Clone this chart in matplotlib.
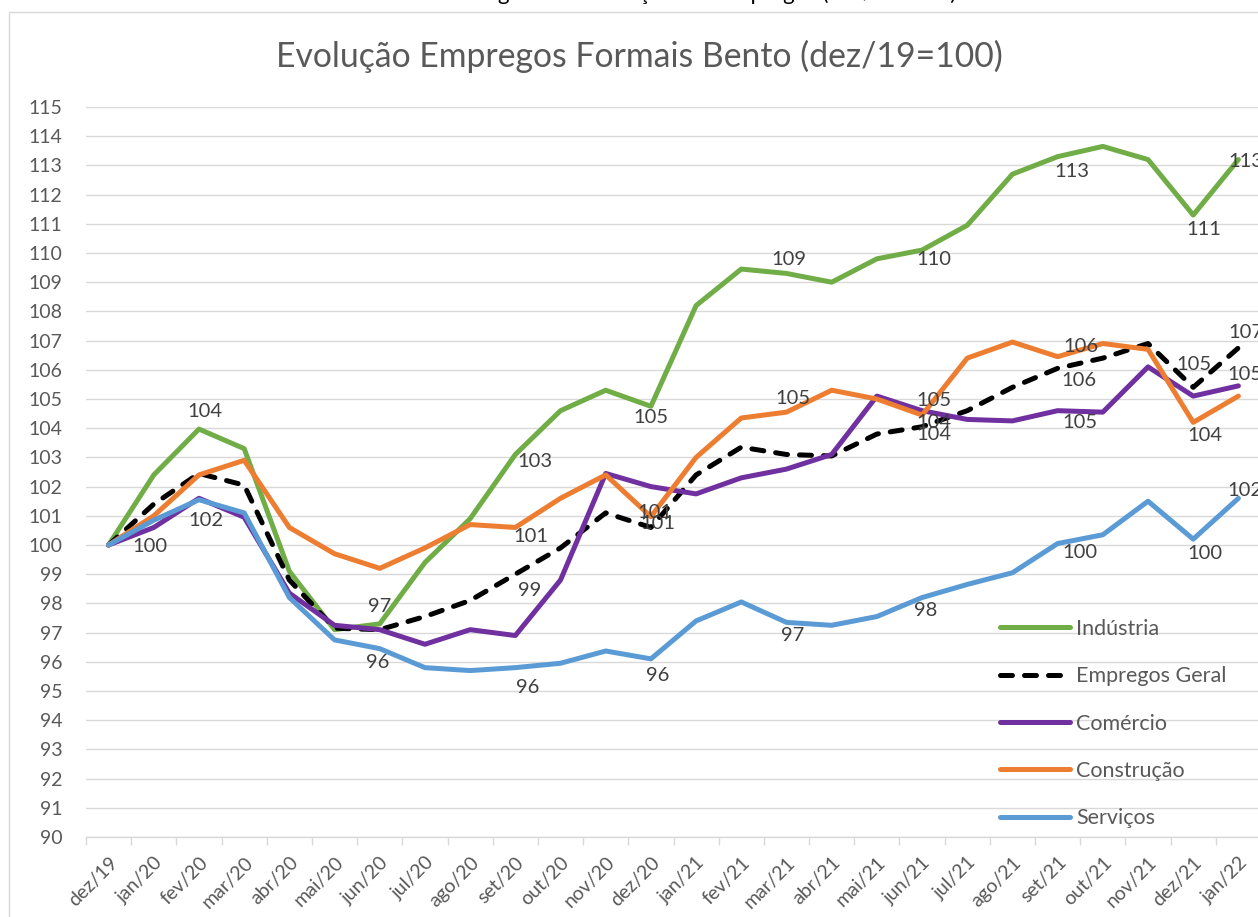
import matplotlib
matplotlib.use("Agg")
import matplotlib.pyplot as plt
import numpy as np
from matplotlib.patches import Rectangle

plt.rcParams['font.family'] = ['Lato', 'DejaVu Sans']

meses = ['dez/19', 'jan/20', 'fev/20', 'mar/20', 'abr/20', 'mai/20', 'jun/20',
         'jul/20', 'ago/20', 'set/20', 'out/20', 'nov/20', 'dez/20', 'jan/21',
         'fev/21', 'mar/21', 'abr/21', 'mai/21', 'jun/21', 'jul/21', 'ago/21',
         'set/21', 'out/21', 'nov/21', 'dez/21', 'jan/22']

industria = [100, 102.4, 103.97, 103.3, 99.1, 97.1, 97.3, 99.4, 100.9, 103.1,
             104.6, 105.3, 104.75, 108.2, 109.45, 109.3, 109.0, 109.8, 110.1,
             110.95, 112.7, 113.3, 113.65, 113.2, 111.3, 113.2]
geral = [100, 101.4, 102.45, 102.05, 98.8, 97.15, 97.1, 97.55, 98.1, 99.0,
         99.9, 101.1, 100.6, 102.4, 103.35, 103.1, 103.05, 103.8, 104.05,
         104.6, 105.4, 106.05, 106.4, 106.9, 105.4, 106.75]
comercio = [100, 100.6, 101.6, 100.95, 98.35, 97.25, 97.1, 96.6, 97.1, 96.9,
            98.8, 102.45, 102.0, 101.75, 102.3, 102.6, 103.1, 105.1, 104.6,
            104.3, 104.25, 104.6, 104.55, 106.1, 105.1, 105.45]
construcao = [100, 101.0, 102.4, 102.9, 100.6, 99.7, 99.2, 99.9, 100.7, 100.6,
              101.6, 102.4, 100.97, 103.0, 104.35, 104.55, 105.3, 105.0, 104.45,
              106.4, 106.95, 106.45, 106.9, 106.7, 104.2, 105.1]
servicos = [100, 100.85, 101.55, 101.1, 98.2, 96.75, 96.45, 95.8, 95.7, 95.8,
            95.95, 96.37, 96.1, 97.4, 98.05, 97.35, 97.25, 97.55, 98.2, 98.65,
            99.05, 100.05, 100.35, 101.5, 100.2, 101.6]

# (serie, legenda, cor, tracejado)
series = [
    (industria, 'Indústria', '#70AD47', False),
    (geral, 'Empregos Geral', '#000000', True),
    (comercio, 'Comércio', '#7030A0', False),
    (construcao, 'Construção', '#ED7D31', False),
    (servicos, 'Serviços', '#5B9BD5', False),
]

# rotulos de dados: (serie, indice, dx px, dy px)
rotulos = [
    (industria, 2, 6, -18), (industria, 6, 0, -17), (industria, 9, 20, 7),
    (industria, 12, 0, 11), (industria, 15, 2, -14), (industria, 18, 12, 9),
    (industria, 21, 14, 15), (industria, 24, 11, 14), (industria, 25, 7, 2),
    (servicos, 0, 41, 1), (servicos, 2, 7, 21), (servicos, 6, -2, 14),
    (servicos, 9, 12, 20), (servicos, 12, 7, 17), (servicos, 15, 6, 13),
    (servicos, 18, 4, 13), (servicos, 21, 22, 9), (servicos, 24, 12, 14),
    (servicos, 25, 7, -8),
    (construcao, 9, 16, 9), (construcao, 12, 4, -4), (construcao, 15, 6, -14),
    (construcao, 18, 12, 7), (construcao, 21, 23, -10), (construcao, 24, 12, 13),
    (comercio, 18, 12, -10), (comercio, 21, 22, 12), (comercio, 25, 7, -11),
    (geral, 9, 14, 16), (geral, 12, 7, -4), (geral, 18, 12, 8),
    (geral, 21, 21, 12), (geral, 24, 1, -23), (geral, 25, 7, -15),
]

W, H = 1258, 917
fig = plt.figure(figsize=(W / 100, H / 100), dpi=100)
ax = fig.add_axes([86 / W, 1 - 837 / H, 1175 / W, 730 / H])

x = np.arange(len(meses))
for vals, nome, cor, tracejado in series:
    if tracejado:
        ax.plot(x, vals, color=cor, lw=3.6, label=nome, dashes=(2.4, 2.4),
                dash_capstyle='round', dash_joinstyle='round')
    else:
        ax.plot(x, vals, color=cor, lw=3.6, label=nome,
                solid_joinstyle='round', solid_capstyle='round')

for vals, i, dx, dy in rotulos:
    v = vals[i]
    ax.annotate(str(int(np.floor(v + 0.5))), (x[i], v),
                xytext=(dx * 0.72, -dy * 0.72), textcoords='offset points',
                ha='center', va='center', fontsize=14.5, color='#404040',
                annotation_clip=False)

ax.set_xlim(-0.5, len(meses) - 0.5)
ax.set_ylim(90, 115)
ax.set_yticks(range(90, 116))
ax.yaxis.grid(True, color='#D9D9D9', lw=1)
ax.set_axisbelow(True)
for s in ['top', 'right', 'left']:
    ax.spines[s].set_visible(False)
ax.spines['bottom'].set_color('#D9D9D9')
ax.spines['bottom'].set_linewidth(1)

ax.tick_params(axis='y', length=0, pad=17, labelsize=14, labelcolor='#595959')
ax.set_xticks(x)
ax.set_xticklabels(meses, rotation=45, ha='right', rotation_mode='anchor')
ax.tick_params(axis='x', which='major', length=0, pad=12, labelsize=14,
               labelcolor='#595959')
ax.set_xticks(np.arange(-0.5, len(meses)), minor=True)
ax.tick_params(axis='x', which='minor', length=6, width=1, color='#D9D9D9')

ax.legend(loc='upper left', bbox_to_anchor=(1000 / W, 1 - 619 / H),
          bbox_transform=fig.transFigure, frameon=False, fontsize=15.5,
          handlelength=3.25, handletextpad=0.3, labelspacing=1.27,
          borderpad=0, borderaxespad=0, labelcolor='#595959')

fig.text(639 / W, 1 - 67 / H, 'Evolução Empregos Formais Bento (dez/19=100)',
         ha='center', va='baseline', fontsize=24.3, color='#595959')

# legenda da figura cortada no topo
fig.text(956 / W, 1.0, 'Figura 1 – Evolução dos Empregos (dez/19=100)',
         ha='right', va='baseline', fontsize=16, color='#000000')

fig.patches.append(Rectangle((8.5 / W, -0.05), 1.1, 1.05 - 11.5 / H,
                             transform=fig.transFigure, fill=False,
                             edgecolor='#D9D9D9', lw=1))

fig.savefig('out.png', dpi=100)
